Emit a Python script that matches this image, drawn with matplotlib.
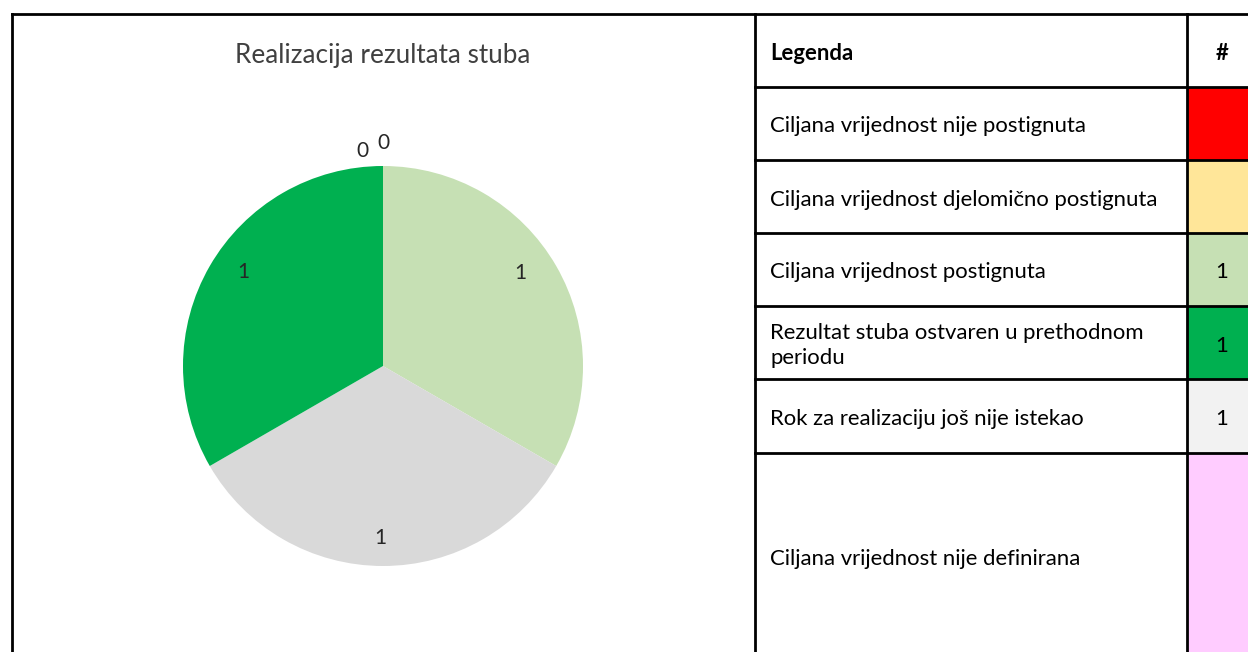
import matplotlib
matplotlib.use("Agg")
import matplotlib.pyplot as plt
from matplotlib.patches import Rectangle
import numpy as np

plt.rcParams['font.family'] = ['Lato', 'DejaVu Sans']

title = "Realizacija rezultata stuba"
categories = [
    "Ciljana vrijednost nije postignuta",
    "Ciljana vrijednost djelomično postignuta",
    "Ciljana vrijednost postignuta",
    "Rezultat stuba ostvaren u prethodnom\nperiodu",
    "Rok za realizaciju još nije istekao",
    "Ciljana vrijednost nije definirana",
]
counts = [0, 0, 1, 1, 1, None]
cell_colors = ["#FF0000", "#FFE699", "#C6E0B4", "#00B050", "#F2F2F2", "#FFCCFF"]
pie_colors = ["#FF0000", "#FFE699", "#C6E0B4", "#00B050", "#D9D9D9", "#FFCCFF"]
# order of slices in the pie (clockwise from top)
pie_order = [0, 1, 2, 4, 3]
# label placement (radius, angle in degrees) for each pie slice label
label_pos = [(1.08, 95.5), (1.115, 90.0), (0.83, 34.0), (0.86, 269.0), (0.84, 146.0)]

W, H = 1248, 652
fig = plt.figure(figsize=(W / 100, H / 100), dpi=100)

# background canvas in pixel coordinates
bg = fig.add_axes([0, 0, 1, 1])
bg.set_xlim(0, W)
bg.set_ylim(H, 0)
bg.axis('off')

lw = 2.0
x_left, x_tab, x_col, x_right = 12, 755, 1187, 1257
row_y = [14, 87, 160, 233, 306, 379, 453, 700]

# colored cells
for i, c in enumerate(cell_colors):
    y0, y1 = row_y[i + 1], row_y[i + 2]
    bg.add_patch(Rectangle((x_col, y0), x_right - x_col, y1 - y0, facecolor=c, edgecolor='none', zorder=1))

# lines
bg.plot([x_left, x_right], [row_y[0], row_y[0]], color='black', lw=lw, zorder=3, solid_capstyle='projecting')
for x in (x_left, x_tab, x_col, x_right):
    bg.plot([x, x], [row_y[0], H + 10], color='black', lw=lw, zorder=3)
for y in row_y[1:-1]:
    bg.plot([x_tab, x_right], [y, y], color='black', lw=lw, zorder=3)

# table text
fs = 15.9
dy = 3
bg.text(770, (row_y[0] + row_y[1]) / 2 + dy, "Legenda", fontsize=fs, fontweight='bold', va='center', ha='left', color='black')
bg.text((x_col + x_right) / 2, (row_y[0] + row_y[1]) / 2 + dy, "#", fontsize=fs, fontweight='bold', va='center', ha='center', color='black')
for i, (cat, n) in enumerate(zip(categories, counts)):
    yc = ((row_y[i + 1] + row_y[i + 2]) / 2 if i < 5 else 556) + dy
    bg.text(770, yc, cat, fontsize=fs, va='center', ha='left', color='black', linespacing=1.3)
    if n:
        bg.text((x_col + x_right) / 2, yc, str(n), fontsize=fs, va='center', ha='center', color='black')

# title
bg.text(383, 56, title, fontsize=18.8, ha='center', va='center', color='#404040')

# pie
cx, cy, r = 383, 366, 200
pax = fig.add_axes([(cx - r) / W, (H - cy - r) / H, 2 * r / W, 2 * r / H])
vals = [counts[i] for i in pie_order]
cols = [pie_colors[i] for i in pie_order]
pax.pie(vals, colors=cols, startangle=90, counterclock=False, radius=1,
        wedgeprops=dict(linewidth=0))
pax.set_xlim(-1, 1)
pax.set_ylim(-1, 1)
pax.axis('off')
for v, (rr, ang) in zip(vals, label_pos):
    a = np.deg2rad(ang)
    pax.text(rr * np.cos(a), rr * np.sin(a), str(v), fontsize=15, ha='center', va='center',
             color='#262626', clip_on=False)

fig.savefig("out.png", dpi=100)
